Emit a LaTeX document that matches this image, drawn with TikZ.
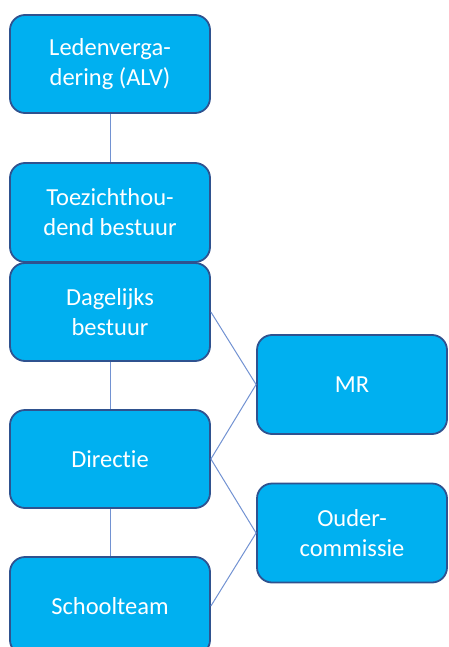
\documentclass[tikz,border=0pt]{standalone}
\usepackage{fontspec}
\setmainfont{Carlito}[Ligatures=NoCommon]
\definecolor{boxfill}{RGB}{0,176,240}
\definecolor{boxedge}{RGB}{47,82,143}
\definecolor{linkcol}{RGB}{114,146,210}
\begin{document}
\begin{tikzpicture}[x=1pt,y=-1pt,
  orgbox/.style={draw=boxedge, fill=boxfill, line width=1.8pt, rounded corners=15pt,
    text=white, align=center, inner sep=0pt,
    font=\fontsize{24.5}{30}\selectfont},
  link/.style={draw=linkcol, line width=1pt}]
\clip (0,0) rectangle (448,647);
\node[orgbox, minimum width=200pt, minimum height=98pt] (L) at (110,64) {Ledenverga-\\dering (ALV)};
\node[orgbox, minimum width=200pt, minimum height=99pt] (T) at (110,212.5) {Toezichthou-\\dend bestuur};
\node[orgbox, minimum width=200pt, minimum height=98pt] (D) at (110,312) {Dagelijks\\bestuur};
\node[orgbox, minimum width=200pt, minimum height=98pt] (Dir) at (110,459) {Directie};
\node[orgbox, minimum width=200pt, minimum height=98pt] (S) at (110,606) {Schoolteam};
\node[orgbox, minimum width=190pt, minimum height=99pt] (MR) at (352,384.5) {MR};
\node[orgbox, minimum width=190pt, minimum height=99pt] (O) at (352,533) {Ouder-\\commissie};
\draw[link] (L) -- (T);
\draw[link] (D) -- (Dir);
\draw[link] (Dir) -- (S);
\draw[link] (D.east) -- (MR.west);
\draw[link] (Dir.east) -- (MR.west);
\draw[link] (Dir.east) -- (O.west);
\draw[link] (S.east) -- (O.west);
\end{tikzpicture}
\end{document}
